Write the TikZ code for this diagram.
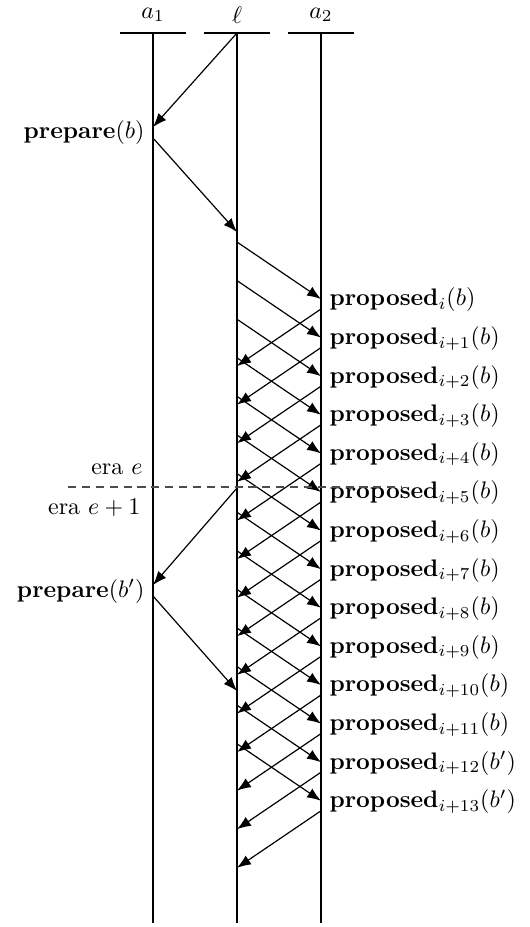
\documentclass[tikz,border=0pt]{standalone}
\usepackage{amsmath}
\usetikzlibrary{arrows.meta,positioning}

\begin{document}
\begin{tikzpicture}[x=0.418pt, y=-0.418pt, line width=0.5pt, msg/.style={-{Latex[length=5.8pt,width=4.4pt]}}, head/.style={inner sep=1pt}, era/.style={dash pattern=on 3.4pt off 2.4pt,draw=black!70}]
\useasboundingbox (0,0) rectangle (530,927);
% lifelines
\node[head] (a1) at (153,15) {$a_1$};
\node[head] (l) at (237,15) {$\ell$};
\node[head] (a2) at (321,15) {$a_2$};
\foreach \n/\x in {a1/153,l/237,a2/321} {
  \coordinate (\n-top) at (\x,33);
  \coordinate (\n-bot) at (\x,923);
  \draw (\x-33,33) -- (\x+33,33);
  \draw (\n-top) -- (\n-bot);
}
% first prepare
\coordinate (a1in) at (153,127);
\coordinate (a1out) at (153,138);
\coordinate (lin) at (237,232);
\node[anchor=east] (prep) at (153,133) {\textbf{prepare}$(b)$};
\draw[msg] (l-top) -- (a1in);
\draw[msg] (a1out) -- (lin);
% proposals and acks
\foreach \k in {0,...,13} {
  \pgfmathsetmacro\ys{242+38.6*\k}
  \coordinate (ls\k) at (237,\ys);
  \coordinate (ar\k) at (321,\ys+57);
  \coordinate (as\k) at (321,\ys+67);
  \coordinate (lr\k) at (237,\ys+124);
  \draw[msg] (ls\k) -- (ar\k);
  \draw[msg] (as\k) -- (lr\k);
  \ifnum\k=0 \def\sub{i}\else \def\sub{i+\k}\fi
  \ifnum\k>11 \def\blk{b'}\else \def\blk{b}\fi
  \node[anchor=west] (prop\k) at (321,\ys+58) {\textbf{proposed}$_{\sub}(\blk)$};
}
% era change
\coordinate (eraL) at (68,487);
\coordinate (eraR) at (402,487);
\draw[era] (eraL) -- (eraR);
\node[anchor=east] (erae) at (151,469) {era $e$};
\node[anchor=east] (eraf) at (149,508) {era $e+1$};
\coordinate (lout2) at (237,488);
\coordinate (a1in2) at (153,585);
\coordinate (a1out2) at (153,596);
\coordinate (lin2) at (237,691);
\node[anchor=east] (prep2) at (153,591) {\textbf{prepare}$(b')$};
\draw[msg] (lout2) -- (a1in2);
\draw[msg] (a1out2) -- (lin2);
\end{tikzpicture}
\end{document}
